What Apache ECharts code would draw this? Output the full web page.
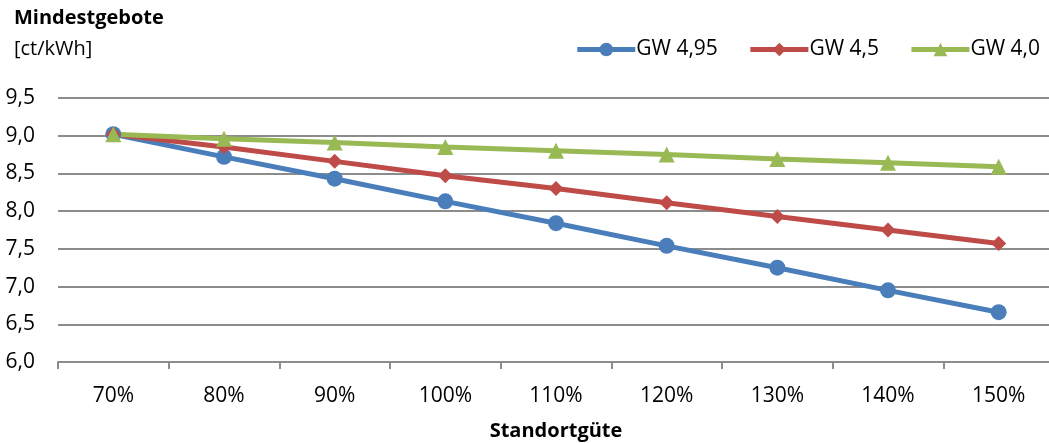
<!DOCTYPE html>
<html>
<head>
<meta charset="utf-8">
<script src="https://cdn.jsdelivr.net/npm/echarts@6/dist/echarts.min.js"></script>
<style>
  html, body { margin: 0; padding: 0; background: #fff; overflow: hidden; }
  #chart { width: 1049px; height: 443px; }
</style>
</head>
<body>
<div id="chart"></div>
<script>
// Standortgüte categories and minimum bids (ct/kWh) per Grundwert
const categories = ['70%', '80%', '90%', '100%', '110%', '120%', '130%', '140%', '150%'];
const gw495 = [9.02, 8.72, 8.43, 8.13, 7.84, 7.54, 7.25, 6.95, 6.66];
const gw45  = [9.02, 8.85, 8.66, 8.47, 8.30, 8.11, 7.93, 7.75, 7.57];
const gw40  = [9.02, 8.96, 8.91, 8.85, 8.80, 8.75, 8.69, 8.64, 8.59];
const seriesNames = ['GW 4,95', 'GW 4,5', 'GW 4,0'];

const FONT = '"Open Sans", "Noto Sans", sans-serif';
const chart = echarts.init(document.getElementById('chart'), null, { renderer: 'canvas' });

function lineSeries(name, data, color, symbol, size) {
  return {
    name: name,
    type: 'line',
    data: data,
    symbol: symbol,
    symbolSize: size,
    lineStyle: { color: color, width: 5 },
    itemStyle: { color: color },
    emphasis: { disabled: true },
    animation: false
  };
}

chart.setOption({
  animation: false,
  textStyle: { fontFamily: FONT },
  title: [
    { text: 'Mindestgebote', left: 9, top: 3,
      textStyle: { fontFamily: FONT, fontSize: 20, fontWeight: 'bold', color: '#000' } },
    { text: '[ct/kWh]', left: 9, top: 34,
      textStyle: { fontFamily: FONT, fontSize: 20, fontWeight: 'normal', color: '#000' } }
  ],
  legend: {
    data: seriesNames,
    right: 4,
    top: 34,
    itemWidth: 58,
    itemHeight: 17,
    itemGap: 30,
    lineStyle: { width: 5 },
    textStyle: { fontFamily: FONT, fontSize: 21, color: '#000', padding: [0, 0, 0, -4] }
  },
  grid: { left: 58, right: -5, top: 98, bottom: 81, outerBoundsMode: 'none', containLabel: false },
  xAxis: {
    type: 'category',
    data: categories,
    boundaryGap: true,
    name: 'Standortgüte',
    nameLocation: 'middle',
    nameGap: 59,
    nameTextStyle: { fontFamily: FONT, fontSize: 20, fontWeight: 'bold', color: '#000' },
    axisLine: { lineStyle: { color: '#8c8c8c', width: 2 } },
    axisTick: { show: true, length: 7, lineStyle: { color: '#8c8c8c', width: 2 } },
    axisLabel: { fontFamily: FONT, fontSize: 21, color: '#000', margin: 24 }
  },
  yAxis: {
    type: 'value',
    min: 6.0,
    max: 9.5,
    interval: 0.5,
    axisLine: { show: false },
    axisTick: { show: false },
    splitLine: { lineStyle: { color: '#8c8c8c', width: 2 } },
    axisLabel: {
      fontFamily: FONT, fontSize: 21, color: '#000', margin: 23,
      formatter: v => v.toFixed(1).replace('.', ',')
    }
  },
  series: [
    lineSeries(seriesNames[0], gw495, '#4a7ebb', 'circle', 16),
    lineSeries(seriesNames[1], gw45, '#be4b48', 'diamond', 15),
    lineSeries(seriesNames[2], gw40, '#98b954', 'triangle', 16)
  ]
});
</script>
</body>
</html>
